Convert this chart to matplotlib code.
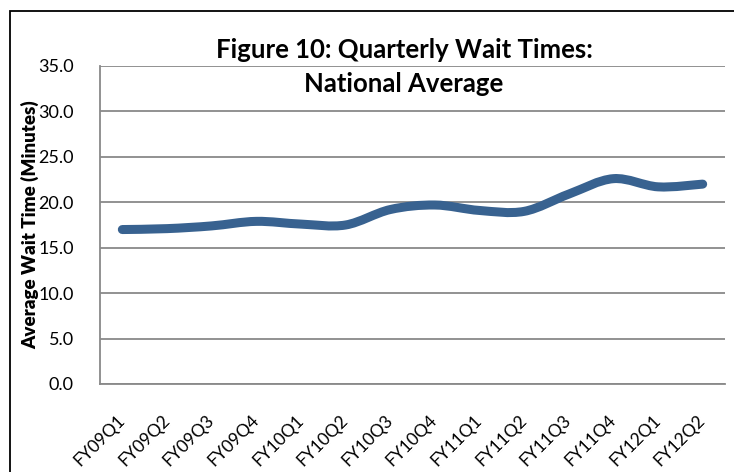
import numpy as np
import matplotlib
matplotlib.use('Agg')
import matplotlib.pyplot as plt
from matplotlib.path import Path
from matplotlib.patches import PathPatch, Rectangle

quarters = ['FY09Q1', 'FY09Q2', 'FY09Q3', 'FY09Q4', 'FY10Q1', 'FY10Q2', 'FY10Q3',
            'FY10Q4', 'FY11Q1', 'FY11Q2', 'FY11Q3', 'FY11Q4', 'FY12Q1', 'FY12Q2']
wait_minutes = [17.0, 17.1, 17.4, 17.9, 17.6, 17.5, 19.2,
                19.7, 19.1, 19.0, 20.9, 22.6, 21.7, 22.0]
y_ticks = [0, 5, 10, 15, 20, 25, 30, 35]

plt.rcParams['font.family'] = ['Lato', 'DejaVu Sans']

fig = plt.figure(figsize=(7.34, 4.72), dpi=100)
ax = fig.add_axes([100 / 734, 1 - 384 / 472, 625 / 734, 318 / 472])

# smoothed line like Excel (cubic bezier between points)
x = np.arange(len(wait_minutes), dtype=float)
y = np.array(wait_minutes, dtype=float)
px = np.concatenate([[x[0]], x, [x[-1]]])
py = np.concatenate([[y[0]], y, [y[-1]]])
verts = [(x[0], y[0])]
codes = [Path.MOVETO]
for i in range(len(x) - 1):
    j = i + 1
    c1 = (px[j] + (px[j + 1] - px[j - 1]) / 6, py[j] + (py[j + 1] - py[j - 1]) / 6)
    c2 = (px[j + 1] - (px[j + 2] - px[j]) / 6, py[j + 1] - (py[j + 2] - py[j]) / 6)
    verts += [c1, c2, (x[j], y[j])]
    codes += [Path.CURVE4] * 3
patch = PathPatch(Path(verts, codes), facecolor='none', edgecolor='#386290',
                  linewidth=6.5, capstyle='round', joinstyle='round', zorder=3)
ax.add_patch(patch)

ax.set_xlim(-0.5, len(quarters) - 0.5)
ax.set_ylim(0, 35)
ax.set_yticks(y_ticks)
ax.set_yticklabels([f'{v:.1f}' for v in y_ticks], fontsize=13)
ax.set_xticks(x)
ax.set_xticklabels(quarters, rotation=45, ha='right', va='center',
                   rotation_mode='anchor', fontsize=12.5)
ax.tick_params(length=0)
ax.tick_params(axis='y', pad=19)
ax.tick_params(axis='x', pad=24)
ax.yaxis.grid(True, color='#898989', linewidth=1.3)
ax.set_axisbelow(True)
for s in ['top', 'right']:
    ax.spines[s].set_visible(False)
for s in ['left', 'bottom']:
    ax.spines[s].set_color('#898989')
    ax.spines[s].set_linewidth(1.3)

ax.set_ylabel('Average Wait Time (Minutes)', fontsize=13.5, fontweight='heavy')
ax.yaxis.set_label_coords(-0.098, 0.5)

fig.text(404 / 734, 1 - 38 / 472, 'Figure 10: Quarterly Wait Times:\nNational Average',
         ha='center', va='top', fontsize=18.5, fontweight='bold', linespacing=1.5)

fig.add_artist(Rectangle((10 / 734, -0.1), 1.2, 1 - 11 / 472 + 0.1, transform=fig.transFigure,
                         fill=False, edgecolor='black', linewidth=1.3))

fig.savefig('out.png', dpi=100)
